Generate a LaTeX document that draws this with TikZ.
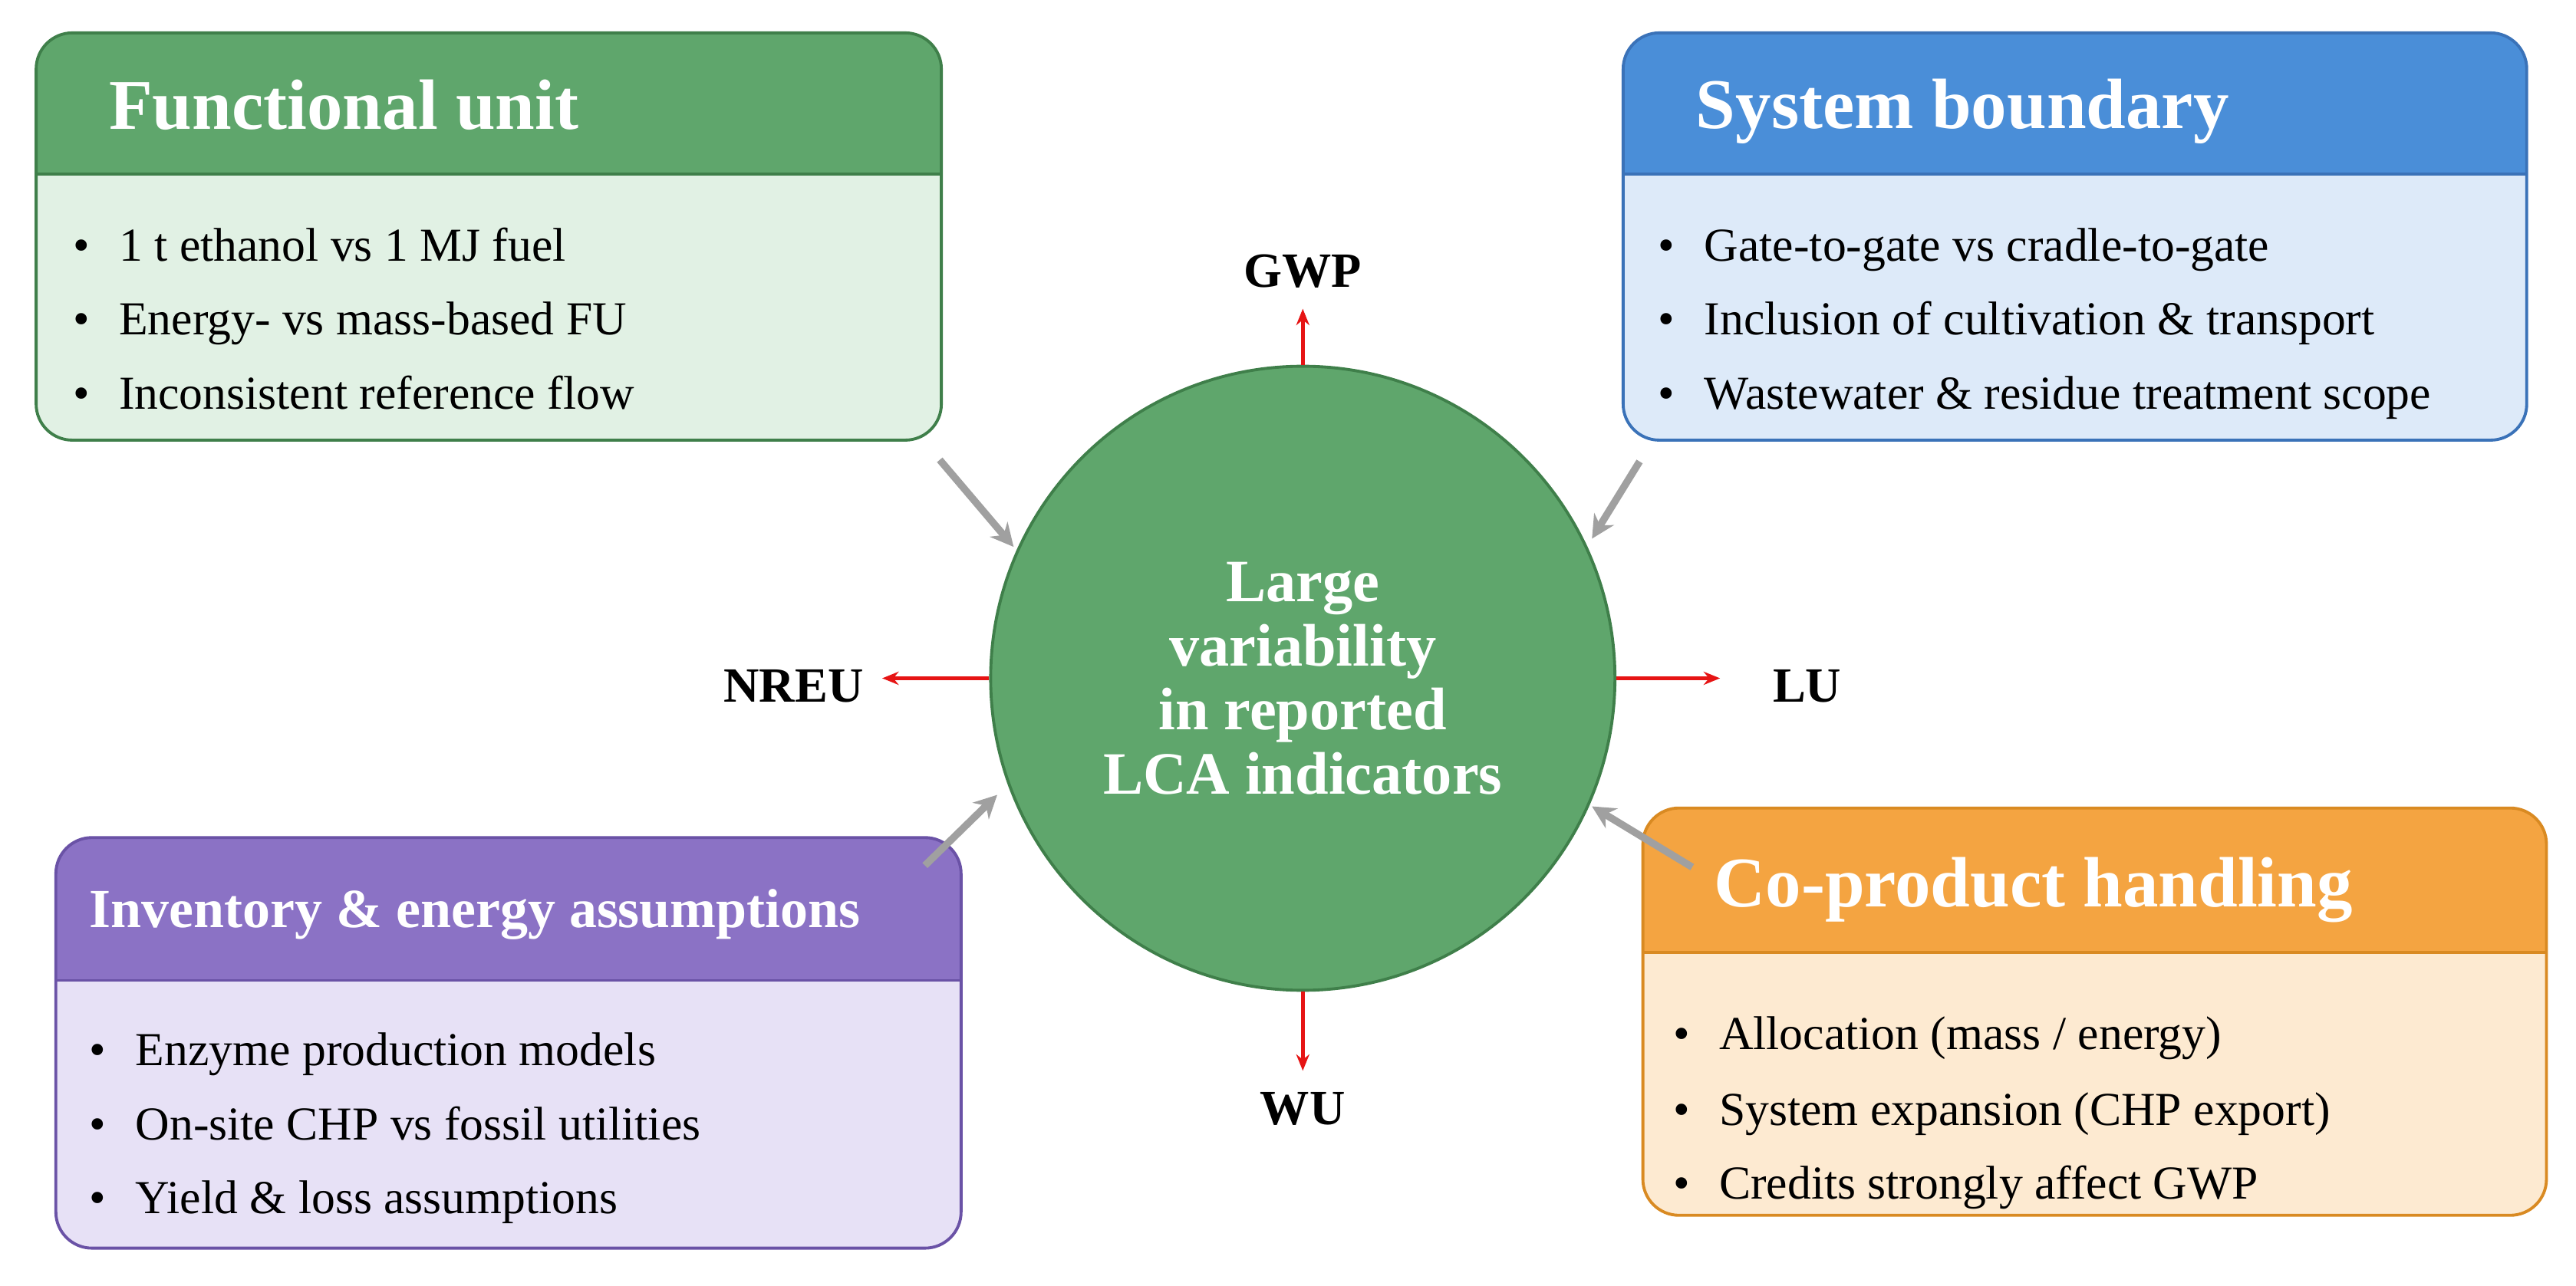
\documentclass[tikz,border=0pt]{standalone}
\usepackage{fontspec}
\setmainfont{Liberation Serif}
\usetikzlibrary{arrows.meta}
\definecolor{gD}{HTML}{5FA66C}\definecolor{gL}{HTML}{E1F1E4}\definecolor{gB}{HTML}{3F7F4A}
\definecolor{bD}{HTML}{4A8ED8}\definecolor{bL}{HTML}{DDEAF9}\definecolor{bB}{HTML}{3A72B8}
\definecolor{pD}{HTML}{8B72C5}\definecolor{pL}{HTML}{E7E1F6}\definecolor{pB}{HTML}{6A52A6}
\definecolor{oD}{HTML}{F4A441}\definecolor{oL}{HTML}{FDEAD1}\definecolor{oB}{HTML}{D98A22}
\newcommand{\mypanel}[8]{%
  \begin{scope}
  \clip[rounded corners=11pt] (#1,#2) rectangle (#3,#4);
  \fill[#7] (#1,#2) rectangle (#3,#4);
  \fill[#6] (#1,#2) rectangle (#3,#5);
  \draw[#8,line width=0.8pt] (#1,#5) -- (#3,#5);
  \end{scope}
  \draw[#8,line width=0.9pt,rounded corners=11pt] (#1,#2) rectangle (#3,#4);}
\tikzset{x=0.5pt,y=-0.5pt,
  title/.style={font=\bfseries\fontsize{21.7}{24}\selectfont,text=white,anchor=west,inner sep=0},
  item/.style={font=\fontsize{14.4}{16}\selectfont,anchor=base west,inner sep=0},
  red/.style={draw={rgb,255:red,230;green,20;blue,20},line width=1.1pt,-{Stealth[length=5pt,width=4pt]}},
  grey/.style={draw={rgb,255:red,160;green,160;blue,160},line width=2.2pt,-{Stealth[length=7pt,width=7pt]}},
  lab/.style={font=\bfseries\fontsize{15}{17}\selectfont,inner sep=0}}
\newcommand{\bul}[3]{\node[item] at (#1,#2+9) {\textbullet\hspace{9pt}#3};}
\begin{document}
\begin{tikzpicture}
\useasboundingbox (0,0) rectangle (1568,783);
\mypanel{22}{20}{573}{268}{106}{gD}{gL}{gB}
\mypanel{988}{20}{1538}{268}{106}{bD}{bL}{bB}
\mypanel{34}{510}{585}{760}{597}{pD}{pL}{pB}
\mypanel{1000}{492}{1550}{740}{580}{oD}{oL}{oB}
\node[title] (t1) at (66,64) {Functional unit};
\node[title] (t2) at (1032,68) {System boundary};
\node[title,font=\bfseries\fontsize{16.8}{19}\selectfont] (t3) at (54,557) {Inventory \& energy assumptions};
\node[title] (t4) at (1043,542) {Co-product handling};
\bul{44}{150}{1 t ethanol vs 1 MJ fuel}
\bul{44}{195}{Energy- vs mass-based FU}
\bul{44}{240}{Inconsistent reference flow}
\bul{1009}{150}{Gate-to-gate vs cradle-to-gate}
\bul{1009}{195}{Inclusion of cultivation \& transport}
\bul{1009}{240}{Wastewater \& residue treatment scope}
\bul{54}{640}{Enzyme production models}
\bul{54}{685}{On-site CHP vs fossil utilities}
\bul{54}{730}{Yield \& loss assumptions}
\bul{1018}{630}{Allocation (mass / energy)}
\bul{1018}{676}{System expansion (CHP export)}
\bul{1018}{721}{Credits strongly affect GWP}
\node[circle,fill=gD,draw=gB,line width=0.9pt,minimum size=190pt,inner sep=0,
  font=\bfseries\fontsize{18.3}{19.5}\selectfont,text=white,align=center] (c) at (793,413)
  {Large\\variability\\in reported\\LCA indicators};
\node[lab] (gwp) at (793,165) {GWP};
\node[lab] (wu) at (793,675) {WU};
\node[lab] (nreu) at (483,418) {NREU};
\node[lab] (lu) at (1100,418) {LU};
\draw[red] (c.north) -- (793,188);
\draw[red] (c.south) -- (793,652);
\draw[red] (c.west) -- (537,413);
\draw[red] (c.east) -- (1047,413);
\coordinate (a1) at (572,280); \coordinate (a2) at (998,281);
\coordinate (a3) at (563,527); \coordinate (a4) at (1030,528);
\draw[grey] (a1) -- (617,333);
\draw[grey] (a2) -- (969,328);
\draw[grey] (a3) -- (607,484);
\draw[grey] (a4) -- (969,491);
\end{tikzpicture}
\end{document}
